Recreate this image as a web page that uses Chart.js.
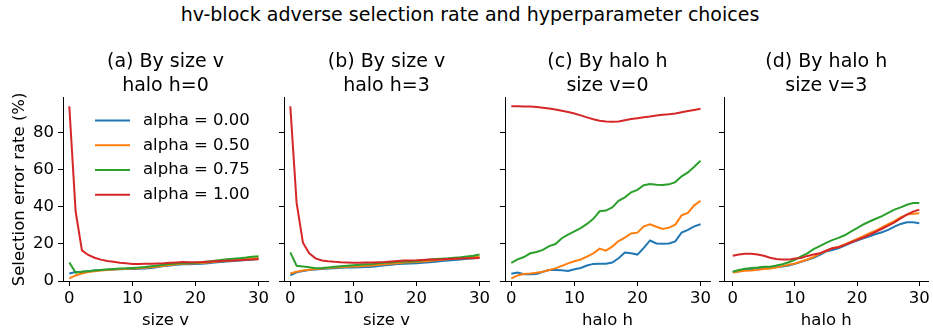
<!DOCTYPE html>
<html>
<head>
<meta charset="utf-8">
<script src="https://cdn.jsdelivr.net/npm/chart.js@4.4.1/dist/chart.umd.min.js"></script>
<style>
  html, body { margin: 0; padding: 0; background: #fff; }
  #fig { position: relative; width: 933px; height: 331px; overflow: hidden; background: #fff; }
  #fig canvas { position: absolute; top: 0; }
  #suptitle {
    position: absolute; top: 0; left: 0; width: 940px;
    text-align: center; font-family: 'DejaVu Sans'; font-size: 19px;
    line-height: 28px; color: #000;
  }
</style>
</head>
<body>
<div id="fig">
  <div id="suptitle">hv-block adverse selection rate and hyperparameter choices</div>
</div>
<script>
// x positions (size v or halo h)
const steps = [0, 1, 2, 3, 4, 5, 6, 7, 8, 9, 10, 11, 12, 13, 14, 15, 16, 17, 18, 19, 20, 21, 22, 23, 24, 25, 26, 27, 28, 29, 30];
const alphaLabels = ['alpha = 0.00', 'alpha = 0.50', 'alpha = 0.75', 'alpha = 1.00'];
const xTicks = [0, 10, 20, 30];
const yTicks = [0, 20, 40, 60, 80];

// (a) by size v, halo h=0
const sizeH0_a000 = [4, 4.8, 5, 5.3, 5.6, 5.9, 6.1, 6.2, 6.3, 6.4, 6.5, 6.6, 6.7, 7, 7.5, 8, 8.4, 8.8, 9, 9, 9.1, 9.3, 9.6, 9.9, 10.2, 10.5, 10.8, 11, 11.3, 11.6, 12];
const sizeH0_a050 = [1.4, 3, 4, 4.8, 5.2, 5.6, 5.9, 6.2, 6.4, 6.6, 6.7, 6.9, 7.1, 7.4, 7.8, 8.2, 8.6, 9, 9.3, 9.4, 9.5, 9.7, 10, 10.3, 10.6, 10.9, 11.2, 11.5, 11.8, 12.1, 12.4];
const sizeH0_a075 = [10, 4.5, 5, 5.3, 5.6, 5.9, 6.2, 6.5, 6.7, 6.8, 7, 7.2, 7.5, 7.9, 8.3, 8.7, 9.1, 9.4, 9.6, 9.7, 9.8, 10.1, 10.5, 10.9, 11.3, 11.7, 12, 12.3, 12.6, 13, 13.3];
const sizeH0_a100 = [94, 37.5, 16.5, 14, 12.5, 11.5, 10.8, 10.3, 9.8, 9.5, 9.2, 9.2, 9.3, 9.3, 9.4, 9.5, 9.8, 10, 10.2, 10.1, 10.1, 10.2, 10.4, 10.6, 10.8, 10.9, 11, 11.2, 11.4, 11.5, 11.7];

// (b) by size v, halo h=3
const sizeH3_a000 = [3, 4.7, 5.4, 5.9, 6.2, 6.5, 6.7, 6.9, 7.1, 7.2, 7.3, 7.4, 7.5, 7.6, 8, 8.5, 8.8, 9.1, 9.3, 9.4, 9.5, 9.8, 10.1, 10.4, 10.7, 11, 11.3, 11.6, 11.9, 12.2, 12.6];
const sizeH3_a050 = [4, 5, 5.7, 6.1, 6.4, 6.7, 7, 7.2, 7.4, 7.6, 7.8, 8, 8.2, 8.4, 8.7, 9, 9.3, 9.6, 9.9, 10.1, 10.2, 10.5, 10.8, 11.1, 11.4, 11.7, 12, 12.3, 12.6, 12.9, 13.2];
const sizeH3_a075 = [15.4, 8.2, 7.8, 7.4, 6.9, 7, 7.3, 7.6, 7.9, 8.2, 8.5, 8.7, 9, 9.2, 9.5, 9.8, 10, 10.3, 10.5, 10.5, 10.6, 11.1, 11.5, 11.8, 12, 12.2, 12.5, 12.8, 13.2, 13.6, 14.2];
const sizeH3_a100 = [94, 42, 20.6, 14.9, 12.2, 11, 10.6, 10.3, 10.1, 10, 9.8, 9.8, 9.9, 10, 10.1, 10.2, 10.5, 10.8, 11, 11, 11.1, 11.3, 11.5, 11.6, 11.7, 11.9, 12, 12.1, 12.2, 12.3, 12.4];

// (c) by halo h, size v=0
const haloV0_a000 = [3.9, 4.5, 3.6, 3.6, 3.8, 5, 5.9, 5.9, 5.8, 5.4, 6.3, 7, 8.3, 9.2, 9.3, 9.3, 9.9, 12.2, 15.3, 14.9, 14.2, 17.8, 21.8, 20.2, 20, 20.2, 21.3, 26.1, 27.5, 29.4, 30.5];
const haloV0_a050 = [1.4, 3, 3.8, 4.1, 4.5, 5, 5.9, 6.8, 8.1, 9.5, 10.6, 11.6, 13.1, 14.9, 17.4, 16.3, 18.5, 21.5, 23.3, 25.6, 26, 29.4, 30.5, 29.2, 28, 28.7, 30.3, 35.3, 36.6, 40.7, 43.2];
const haloV0_a075 = [9.7, 11.6, 12.9, 14.9, 15.6, 16.7, 18.8, 19.9, 23, 25, 26.7, 28.4, 30.7, 33.4, 37.5, 37.9, 39.6, 43.1, 45, 47.7, 49, 51.5, 52.2, 51.8, 51.6, 52, 53.2, 56.3, 58.4, 61.5, 64.7];
const haloV0_a100 = [94, 94, 93.9, 93.8, 93.6, 93.2, 92.8, 92.3, 91.6, 90.9, 90.1, 89.1, 88, 87, 86.2, 85.8, 85.7, 85.8, 86.5, 87.1, 87.6, 88.1, 88.5, 89, 89.4, 89.7, 90.1, 90.8, 91.4, 92, 92.6];

// (d) by halo h, size v=3
const haloV3_a000 = [4.8, 5.3, 5.9, 6, 6.4, 6.8, 7.1, 7.5, 7.8, 8.3, 9.2, 10.3, 11.4, 12.5, 14.1, 15.8, 16.7, 17.6, 19, 20.5, 21.8, 23, 24.1, 25.3, 26.2, 27.5, 29.3, 30.7, 31.6, 31.6, 31.1];
const haloV3_a050 = [4.6, 5.1, 5.5, 5.7, 6, 6.4, 6.7, 7.3, 8, 8.7, 9.4, 10.5, 11.6, 12.9, 14.7, 16.1, 17.6, 18.3, 19.7, 21.2, 22.6, 24.1, 25.7, 27.1, 28.8, 30.6, 32.2, 34.2, 35.7, 36.2, 36.4];
const haloV3_a075 = [5, 5.9, 6.6, 7, 7.2, 7.6, 7.7, 8.3, 9, 10.1, 11.4, 13.2, 14.9, 17.1, 18.8, 20.5, 22, 23.2, 24.6, 26.6, 28.4, 30.4, 32, 33.5, 34.9, 36.7, 38.4, 39.6, 41, 41.9, 42];
const haloV3_a100 = [13.6, 14.3, 14.7, 14.7, 14.3, 13.6, 12.5, 11.8, 11.5, 11.5, 12.1, 12.4, 13.5, 14.2, 14.9, 16.3, 17.6, 18.2, 19.4, 20.7, 22.1, 23.4, 24.8, 26.5, 28.1, 29.8, 31.5, 33.7, 35.7, 37.3, 38.4];

const lineColors = ['#1f77b4', '#ff7f0e', '#2ca02c', '#d62728'];
const FONT = 'DejaVu Sans';

Chart.defaults.font.family = FONT;
Chart.defaults.color = '#000';

// legend drawn inside the plot area of the first panel
const inlineLegend = {
  id: 'inlineLegend',
  afterDatasetsDraw(chart, args, opts) {
    const { ctx, chartArea } = chart;
    ctx.save();
    ctx.font = opts.fontSize + 'px "' + FONT + '"';
    ctx.textBaseline = 'middle';
    ctx.fillStyle = '#000';
    chart.data.datasets.forEach((ds, i) => {
      const x = chartArea.left + opts.left;
      const y = chartArea.top + opts.top + i * opts.rowGap;
      ctx.strokeStyle = ds.borderColor;
      ctx.lineWidth = 2;
      ctx.beginPath();
      ctx.moveTo(x, y);
      ctx.lineTo(x + opts.lineLen, y);
      ctx.stroke();
      ctx.fillText(ds.label, x + opts.textGap, y);
    });
    ctx.restore();
  }
};

const panels = [
  { left: 0, axisW: 63, plotW: 205, padR: 10, xMin: -1, title: ['(a) By size v', 'halo h=0'], xLabel: 'size v',
    series: [sizeH0_a000, sizeH0_a050, sizeH0_a075, sizeH0_a100], first: true },
  { left: 274, axisW: 10, plotW: 205, padR: 10, xMin: -1, title: ['(b) By size v', 'halo h=3'], xLabel: 'size v',
    series: [sizeH3_a000, sizeH3_a050, sizeH3_a075, sizeH3_a100] },
  { left: 495, axisW: 10, plotW: 205, padR: 10, xMin: -1, title: ['(c) By halo h', 'size v=0'], xLabel: 'halo h',
    series: [haloV0_a000, haloV0_a050, haloV0_a075, haloV0_a100] },
  { left: 714, axisW: 10, plotW: 208, padR: 1, xMin: -1.4, title: ['(d) By halo h', 'size v=3'], xLabel: 'halo h',
    series: [haloV3_a000, haloV3_a050, haloV3_a075, haloV3_a100] }
];

const fig = document.getElementById('fig');

panels.forEach(p => {
  const canvas = document.createElement('canvas');
  canvas.width = p.axisW + p.plotW + p.padR;
  canvas.height = 331;
  canvas.style.left = p.left + 'px';
  fig.appendChild(canvas);

  const datasets = p.series.map((vals, i) => ({
    label: alphaLabels[i],
    data: steps.map((s, j) => ({ x: s, y: vals[j] })),
    borderColor: lineColors[i],
    backgroundColor: lineColors[i],
    borderWidth: 2,
    pointRadius: 0,
    tension: 0,
    order: 3 - i
  }));

  new Chart(canvas.getContext('2d'), {
    type: 'line',
    data: { datasets },
    options: {
      responsive: false,
      animation: false,
      devicePixelRatio: 1,
      layout: { padding: { left: 0, right: p.padR, top: 0, bottom: 0 } },
      plugins: {
        legend: { display: false },
        tooltip: { enabled: false },
        title: {
          display: true,
          text: p.title,
          fullSize: false,
          color: '#000',
          font: { size: 19, weight: 'normal', lineHeight: 1.26 },
          padding: { top: 50, bottom: 0 }
        },
        inlineLegend: { fontSize: 16.5, left: 32, top: 22.7, rowGap: 24.7, lineLen: 35, textGap: 48 }
      },
      scales: {
        x: {
          type: 'linear',
          min: p.xMin,
          max: 31.5,
          afterBuildTicks: s => { s.ticks = xTicks.map(v => ({ value: v })); },
          afterFit: s => { s.height = 50; },
          grid: { drawOnChartArea: false, drawTicks: true, tickLength: 5, color: '#000' },
          border: { display: true, color: '#000', width: 1 },
          ticks: { font: { size: 16.5 }, padding: 3, color: '#000', maxRotation: 0 },
          title: { display: true, text: p.xLabel, font: { size: 16.5 }, padding: { top: 0, bottom: 0 }, color: '#000' }
        },
        y: {
          min: 0,
          max: 98.5,
          afterBuildTicks: s => { s.ticks = yTicks.map(v => ({ value: v })); },
          afterFit: s => { s.width = p.axisW; },
          grid: { drawOnChartArea: false, drawTicks: true, tickLength: 5, color: '#000' },
          border: { display: true, color: '#000', width: 1 },
          ticks: { display: !!p.first, font: { size: 16.5 }, padding: 4, color: '#000' },
          title: {
            display: !!p.first,
            text: 'Selection error rate (%)',
            font: { size: 16.5 },
            padding: { top: 10, bottom: 0 },
            color: '#000'
          }
        }
      }
    },
    plugins: p.first ? [inlineLegend] : []
  });
});
</script>
</body>
</html>
